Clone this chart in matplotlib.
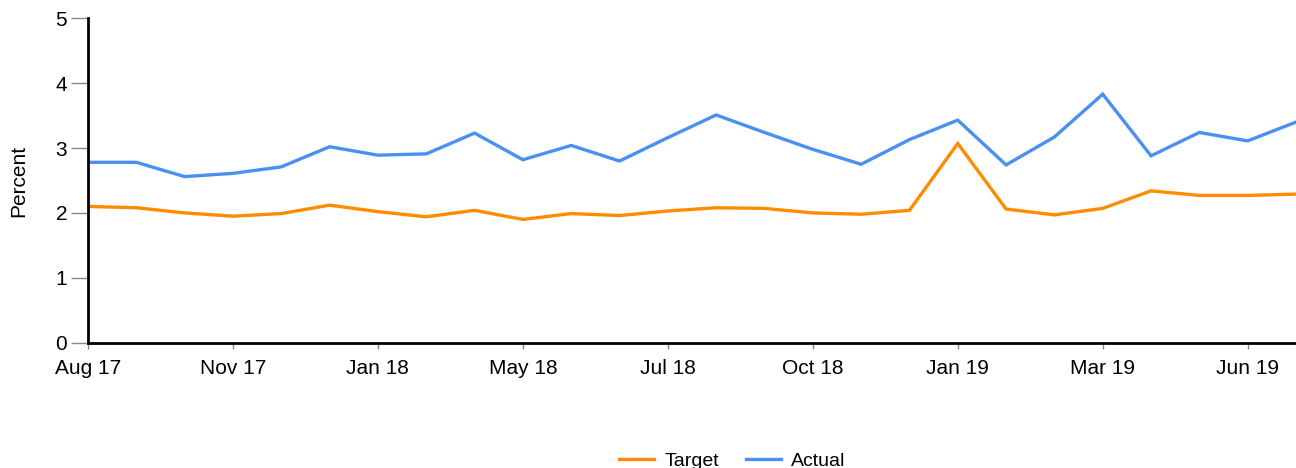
import matplotlib.pyplot as plt
import numpy as np

plt.rcParams['font.family'] = ['Liberation Sans', 'DejaVu Sans']

# valores leídos por periodo (26 observaciones)
target = [2.10, 2.08, 2.00, 1.95, 1.99, 2.12, 2.02, 1.94, 2.04, 1.90,
          1.99, 1.96, 2.03, 2.08, 2.07, 2.00, 1.98, 2.04, 3.07, 2.06,
          1.97, 2.07, 2.34, 2.27, 2.27, 2.29]
actual = [2.78, 2.78, 2.56, 2.61, 2.71, 3.02, 2.89, 2.91, 3.23, 2.82,
          3.04, 2.80, 3.16, 3.51, 3.24, 2.98, 2.75, 3.13, 3.43, 2.74,
          3.17, 3.83, 2.88, 3.24, 3.11, 3.40]
tick_pos = [0, 3, 6, 9, 12, 15, 18, 21, 24]
tick_labels = ['Aug 17', 'Nov 17', 'Jan 18', 'May 18', 'Jul 18',
               'Oct 18', 'Jan 19', 'Mar 19', 'Jun 19']

x = np.arange(len(target))

fig = plt.figure(figsize=(12.96, 4.68), dpi=100)
ax = fig.add_axes([0.0679, 0.2677, 0.9321, 0.6933])

ax.plot(x, target, color='#ff8c00', lw=2.4, label='Target', solid_joinstyle='miter')
ax.plot(x, actual, color='#4a90f0', lw=2.4, label='Actual', solid_joinstyle='miter')

ax.set_xlim(0, 25)
ax.set_ylim(0, 5)
ax.set_yticks(range(6))
ax.set_xticks(tick_pos)
ax.set_xticklabels(tick_labels)
ax.tick_params(axis='both', labelsize=15, color='#888888', width=1)
ax.tick_params(axis='y', length=12, pad=3)
ax.tick_params(axis='x', length=4.5, pad=7)
ax.set_ylabel('Percent', fontsize=15)
ax.yaxis.set_label_coords(-0.0495, 0.5)

for s in ['top', 'right']:
    ax.spines[s].set_visible(False)
for s in ['left', 'bottom']:
    ax.spines[s].set_linewidth(2)
    ax.spines[s].set_color('black')

fig.legend(loc='center', bbox_to_anchor=(0.565, 0.014), ncol=2, frameon=False,
           fontsize=14, handlelength=1.8, handletextpad=0.5, columnspacing=1.4)

plt.savefig('out.png', dpi=100)
